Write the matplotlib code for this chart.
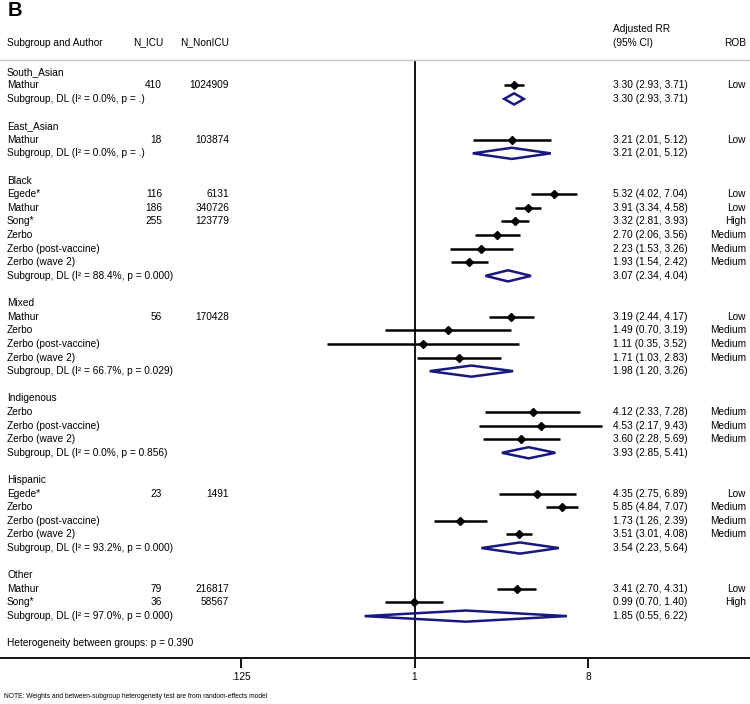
import matplotlib
matplotlib.use('Agg')
import matplotlib.pyplot as plt
import matplotlib.transforms as mtransforms
import numpy as np

plt.rcParams['font.family'] = ['Liberation Sans', 'DejaVu Sans']

# subgroups and pooled DL estimates
groups = ['South_Asian', 'East_Asian', 'Black', 'Mixed', 'Indigenous', 'Hispanic', 'Other']
group_rr = [3.30, 3.21, 3.07, 1.98, 3.93, 3.54, 1.85]
group_lo = [2.93, 2.01, 2.34, 1.20, 2.85, 2.23, 0.55]
group_hi = [3.71, 5.12, 4.04, 3.26, 5.41, 5.64, 6.22]
group_i2 = ['0.0', '0.0', '88.4', '66.7', '0.0', '93.2', '97.0']
group_p = ['.', '.', '0.000', '0.029', '0.856', '0.000', '0.000']

# studies, in order, with their subgroup
study_group = ['South_Asian', 'East_Asian',
               'Black', 'Black', 'Black', 'Black', 'Black', 'Black',
               'Mixed', 'Mixed', 'Mixed', 'Mixed',
               'Indigenous', 'Indigenous', 'Indigenous',
               'Hispanic', 'Hispanic', 'Hispanic', 'Hispanic',
               'Other', 'Other']
study = ['Mathur', 'Mathur',
         'Egede*', 'Mathur', 'Song*', 'Zerbo', 'Zerbo (post-vaccine)', 'Zerbo (wave 2)',
         'Mathur', 'Zerbo', 'Zerbo (post-vaccine)', 'Zerbo (wave 2)',
         'Zerbo', 'Zerbo (post-vaccine)', 'Zerbo (wave 2)',
         'Egede*', 'Zerbo', 'Zerbo (post-vaccine)', 'Zerbo (wave 2)',
         'Mathur', 'Song*']
n_icu = ['410', '18', '116', '186', '255', '', '', '', '56', '', '', '',
         '', '', '', '23', '', '', '', '79', '36']
n_nonicu = ['1024909', '103874', '6131', '340726', '123779', '', '', '', '170428', '', '', '',
            '', '', '', '1491', '', '', '', '216817', '58567']
rr = [3.30, 3.21, 5.32, 3.91, 3.32, 2.70, 2.23, 1.93, 3.19, 1.49, 1.11, 1.71,
      4.12, 4.53, 3.60, 4.35, 5.85, 1.73, 3.51, 3.41, 0.99]
lo = [2.93, 2.01, 4.02, 3.34, 2.81, 2.06, 1.53, 1.54, 2.44, 0.70, 0.35, 1.03,
      2.33, 2.17, 2.28, 2.75, 4.84, 1.26, 3.01, 2.70, 0.70]
hi = [3.71, 5.12, 7.04, 4.58, 3.93, 3.56, 3.26, 2.42, 4.17, 3.19, 3.52, 2.83,
      7.28, 9.43, 5.69, 6.89, 7.07, 2.39, 4.08, 4.31, 1.40]
rob = ['Low', 'Low', 'Low', 'Low', 'High', 'Medium', 'Medium', 'Medium', 'Low', 'Medium', 'Medium', 'Medium',
       'Medium', 'Medium', 'Medium', 'Low', 'Medium', 'Medium', 'Medium', 'Low', 'High']

tick_vals = [0.125, 1, 8]
tick_labels = ['.125', '1', '8']

W, H = 750, 704
fig = plt.figure(figsize=(W / 100, H / 100), dpi=100)

# pixel layout
row0_px, row_step = 71.7, 13.61
top_px, bot_px = 60, 658
one_px, dbl_px = 414.5, 57.83

ax = fig.add_axes([0, 1 - bot_px / H, 1, (bot_px - top_px) / H])
ax.set_xscale('log', base=2)
ax.set_xlim(2 ** (-one_px / dbl_px), 2 ** ((W - one_px) / dbl_px))
ax.set_ylim((bot_px - row0_px) / row_step, (top_px - row0_px) / row_step)

tr = mtransforms.blended_transform_factory(fig.transFigure, ax.transData)
fs = 7.3
navy = '#18187f'

def col(px):
    return px / W

row = 0
for g, grr, glo, ghi, gi2, gp in zip(groups, group_rr, group_lo, group_hi, group_i2, group_p):
    ax.text(col(7), row, g, transform=tr, fontsize=fs, va='center', ha='left')
    row += 1
    for i in [k for k, sg in enumerate(study_group) if sg == g]:
        ax.text(col(7), row, study[i], transform=tr, fontsize=fs, va='center', ha='left')
        ax.text(col(162), row, n_icu[i], transform=tr, fontsize=fs, va='center', ha='right')
        ax.text(col(229), row, n_nonicu[i], transform=tr, fontsize=fs, va='center', ha='right')
        ax.plot([lo[i], hi[i]], [row, row], color='black', lw=1.8, solid_capstyle='butt', zorder=3)
        ax.plot(rr[i], row, marker='D', color='black', ms=3.6, zorder=4)
        ax.text(col(613), row, '%.2f (%.2f, %.2f)' % (rr[i], lo[i], hi[i]), transform=tr,
                fontsize=fs, va='center', ha='left')
        ax.text(col(746), row, rob[i], transform=tr, fontsize=fs, va='center', ha='right')
        row += 1
    ax.text(col(7), row, 'Subgroup, DL (I\u00b2 = %s%%, p = %s)' % (gi2, gp), transform=tr,
            fontsize=fs, va='center', ha='left')
    ax.fill([glo, grr, ghi, grr], [row, row - 0.41, row, row + 0.41],
            facecolor='none', edgecolor=navy, lw=1.8, zorder=3)
    ax.text(col(613), row, '%.2f (%.2f, %.2f)' % (grr, glo, ghi), transform=tr,
            fontsize=fs, va='center', ha='left')
    row += 2

ax.text(col(7), row, 'Heterogeneity between groups: p = 0.390', transform=tr,
        fontsize=fs, va='center', ha='left')

ax.axvline(1, color='black', lw=1.3, zorder=2)

for s in ['left', 'right']:
    ax.spines[s].set_visible(False)
ax.spines['top'].set_color('#c4c4c4')
ax.spines['top'].set_linewidth(1.0)
ax.spines['bottom'].set_linewidth(1.3)
ax.set_yticks([])
ax.set_xticks(tick_vals)
ax.set_xticklabels(tick_labels, fontsize=fs)
ax.xaxis.set_minor_locator(matplotlib.ticker.NullLocator())
ax.tick_params(axis='x', direction='out', length=7, width=1.3, pad=3)

# header
fig.text(col(8), 1 - 11 / H, 'B', fontsize=14.5, fontweight='bold', va='center', ha='left')
fig.text(col(7), 1 - 42.5 / H, 'Subgroup and Author', fontsize=fs, va='center', ha='left')
fig.text(col(163), 1 - 42.5 / H, 'N_ICU', fontsize=fs, va='center', ha='right')
fig.text(col(229), 1 - 42.5 / H, 'N_NonICU', fontsize=fs, va='center', ha='right')
fig.text(col(613), 1 - 29.5 / H, 'Adjusted RR', fontsize=fs, va='center', ha='left')
fig.text(col(613), 1 - 42.5 / H, '(95% CI)', fontsize=fs, va='center', ha='left')
fig.text(col(746), 1 - 42.5 / H, 'ROB', fontsize=fs, va='center', ha='right')

fig.text(col(4), 1 - 696 / H,
         'NOTE: Weights and between-subgroup heterogeneity test are from random-effects model',
         fontsize=4.8, va='center', ha='left')

fig.savefig('out.png', dpi=100)
